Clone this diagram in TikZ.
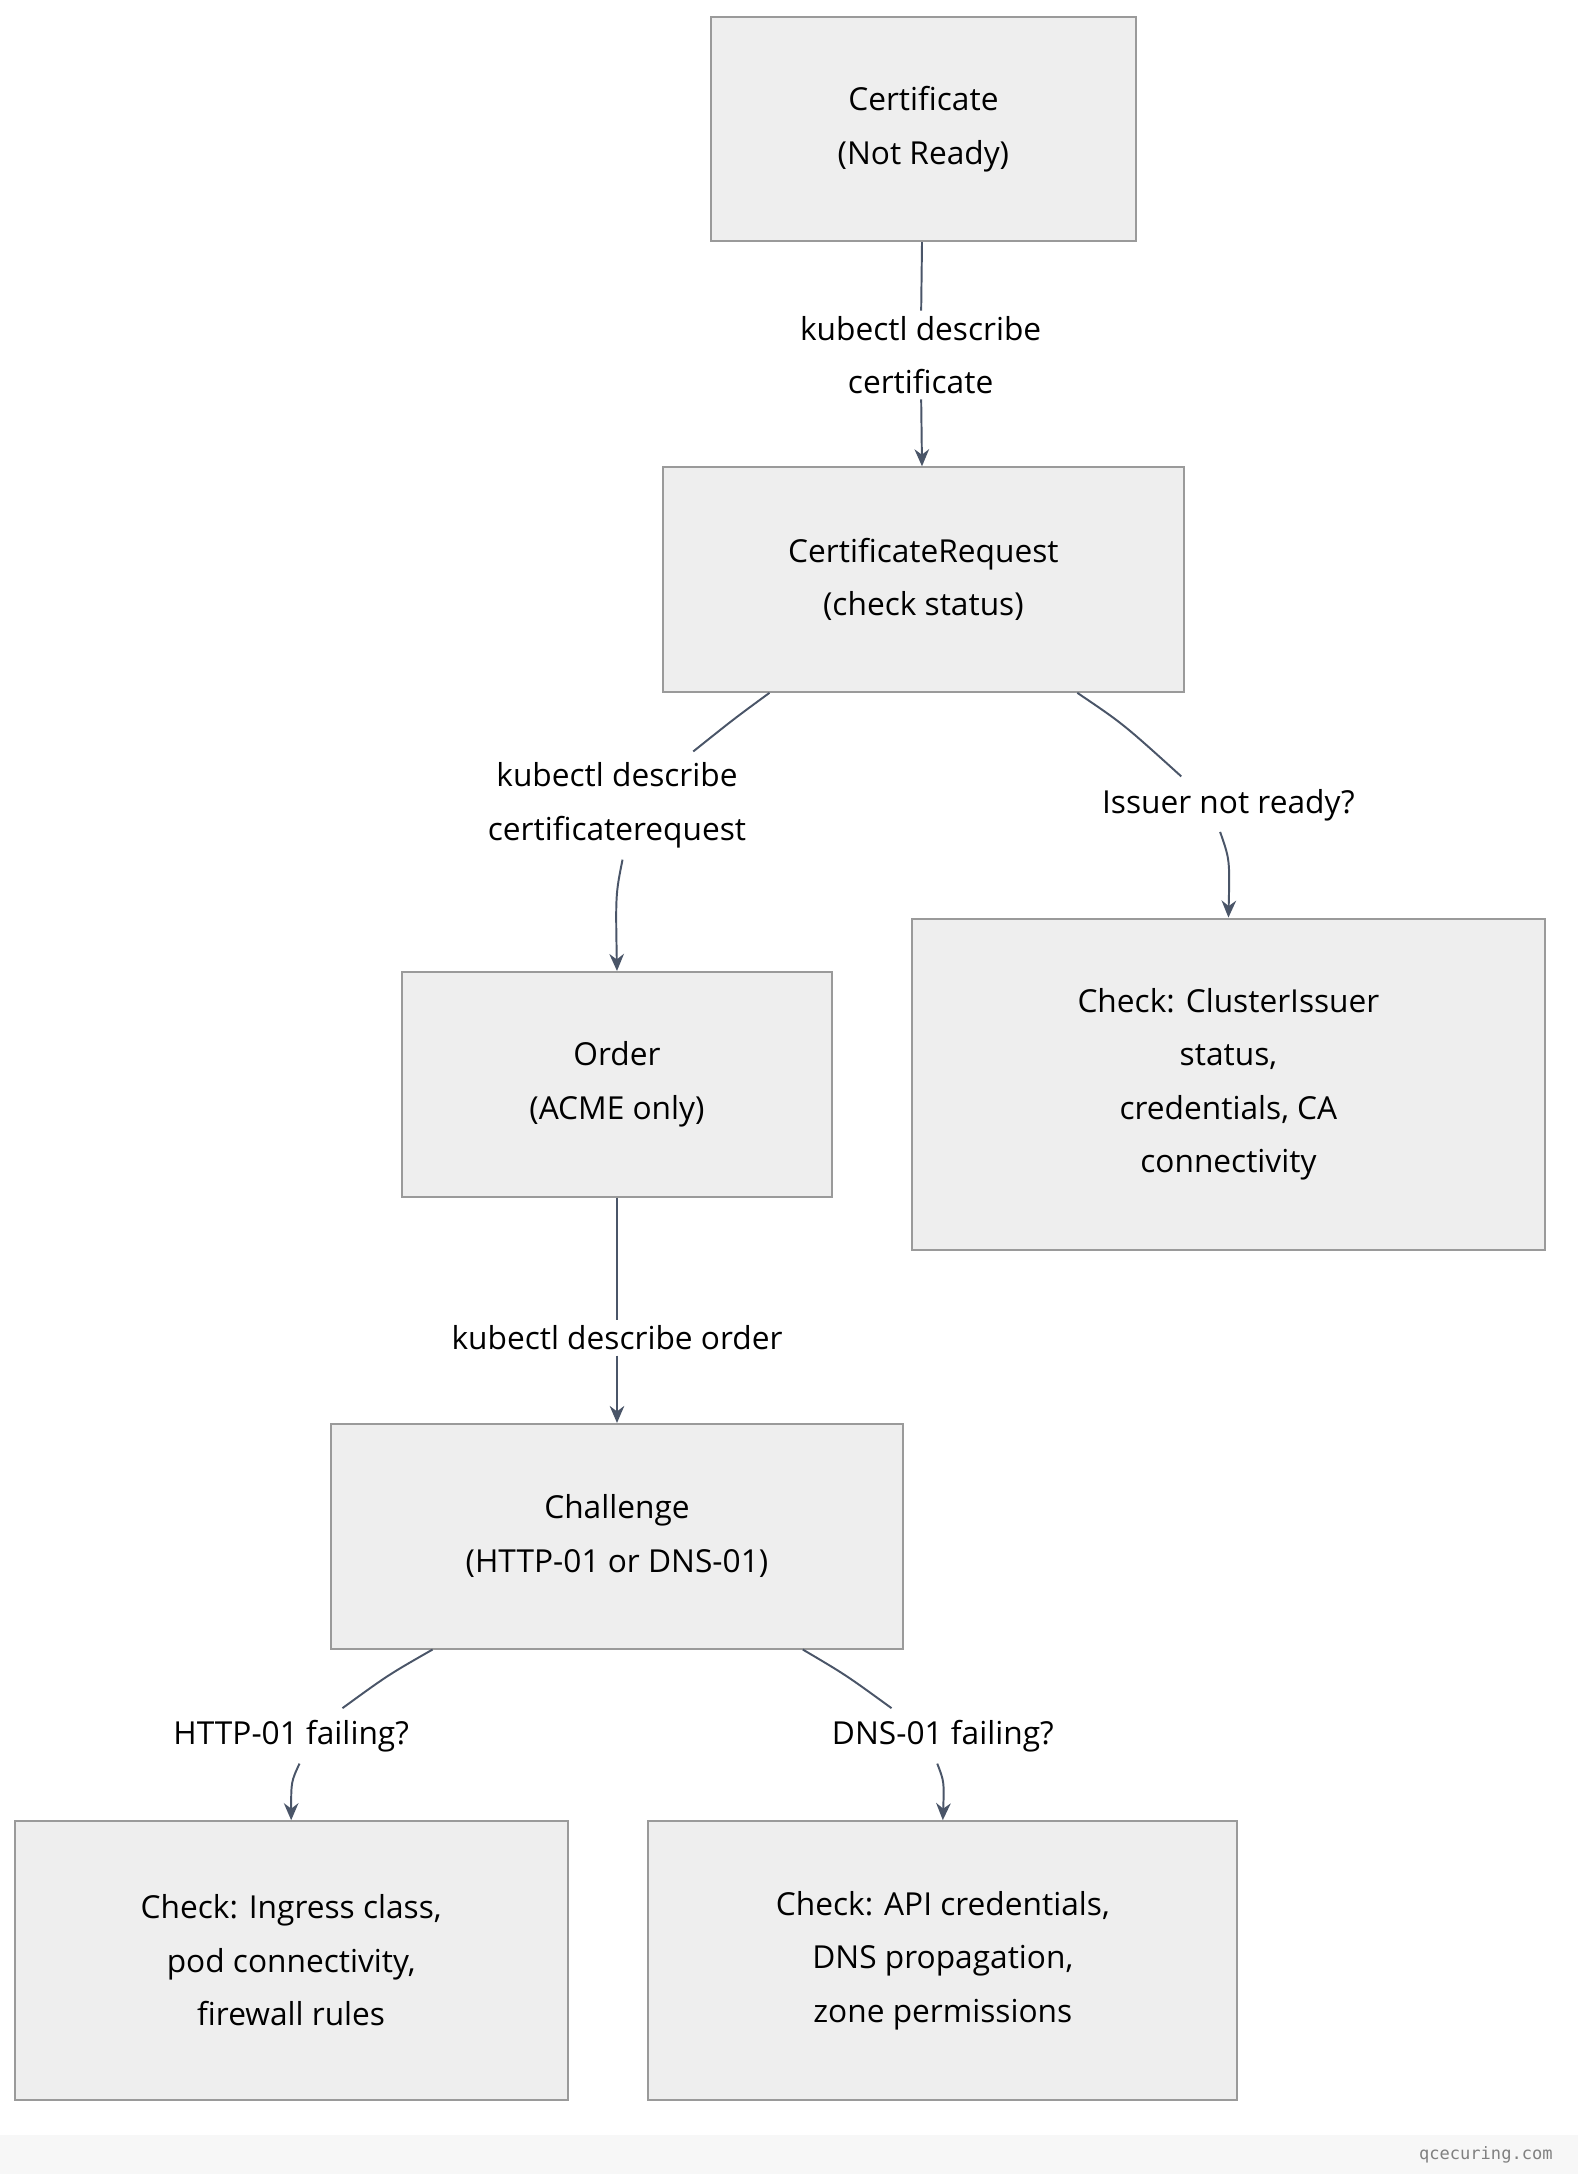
\documentclass[tikz,border=0pt]{standalone}
\usepackage{fontspec}
\setmainfont{Open Sans}
\newfontfamily\footfont{DejaVu Sans Mono}
\usetikzlibrary{positioning,arrows.meta}
\definecolor{boxfill}{HTML}{EEEEEE}
\definecolor{boxline}{HTML}{9A9A9A}
\definecolor{edgecol}{HTML}{4A5568}
\tikzset{
  stage/.style={draw=boxline, fill=boxfill, line width=0.8pt, align=center,
    font=\fontsize{13}{22}\selectfont, inner sep=0pt},
  lbl/.style={fill=white, align=center, font=\fontsize{13}{22}\selectfont, inner sep=2pt},
  link/.style={draw=edgecol, line width=0.8pt},
  arr/.style={link, -{Stealth[length=7pt,width=6pt]}}
}
\begin{document}
\begin{tikzpicture}[x=0.02cm, y=-0.02cm]
\useasboundingbox (0,0) rectangle (1138,1568);
\fill[gray!6] (0,1540) rectangle (1138,1568);
\node[anchor=east, font=\footfont\fontsize{7}{8}\selectfont, text=gray] (foot) at (1126,1554) {qcecuring.com};

% boxes
\node[stage, minimum width=306*0.02cm, minimum height=162*0.02cm] (cert) at (666,93) {Certificate\\(Not Ready)};
\node[stage, minimum width=376*0.02cm, minimum height=162*0.02cm] (creq) at (666,418) {CertificateRequest\\(check status)};
\node[stage, minimum width=310*0.02cm, minimum height=162*0.02cm] (order) at (445,782) {Order\\(ACME only)};
\node[stage, minimum width=456*0.02cm, minimum height=239*0.02cm] (issuer) at (886,782) {Check: ClusterIssuer\\status,\\credentials, CA\\connectivity};
\node[stage, minimum width=412*0.02cm, minimum height=162*0.02cm] (chal) at (445,1108) {Challenge\\(HTTP-01 or DNS-01)};
\node[stage, minimum width=399*0.02cm, minimum height=201*0.02cm] (http) at (210,1414) {Check: Ingress class,\\pod connectivity,\\firewall rules};
\node[stage, minimum width=425*0.02cm, minimum height=201*0.02cm] (dns) at (680,1414) {Check: API credentials,\\DNS propagation,\\zone permissions};

% edge labels
\node[lbl] (l1) at (664,256) {kubectl describe\\certificate};
\node[lbl] (l2) at (445,581) {kubectl describe\\certificaterequest};
\node[lbl] (l3) at (886,581) {Issuer not ready?};
\node[lbl] (l4) at (445,965) {kubectl describe order};
\node[lbl] (l5) at (210,1252) {HTTP-01 failing?};
\node[lbl] (l6) at (680,1252) {DNS-01 failing?};

% connectors
\draw[link] (cert) -- (l1);
\draw[arr] (l1) -- (creq);
\draw[link] (creq.south -| 555,0) .. controls (530,518) .. (500,542);
\draw[arr] (449,620) .. controls (444,645) .. (order.north);
\draw[link] (creq.south -| 777,0) .. controls (810,522) .. (852,560);
\draw[arr] (880,600) .. controls (887,620) .. (issuer.north);
\draw[link] (order) -- (l4);
\draw[arr] (l4) -- (chal);
\draw[link] (chal.south -| 312,0) .. controls (280,1208) .. (247,1232);
\draw[arr] (216,1272) .. controls (210,1285) .. (http.north);
\draw[link] (chal.south -| 579,0) .. controls (610,1208) .. (643,1232);
\draw[arr] (676,1272) .. controls (681,1285) .. (dns.north);
\end{tikzpicture}
\end{document}
